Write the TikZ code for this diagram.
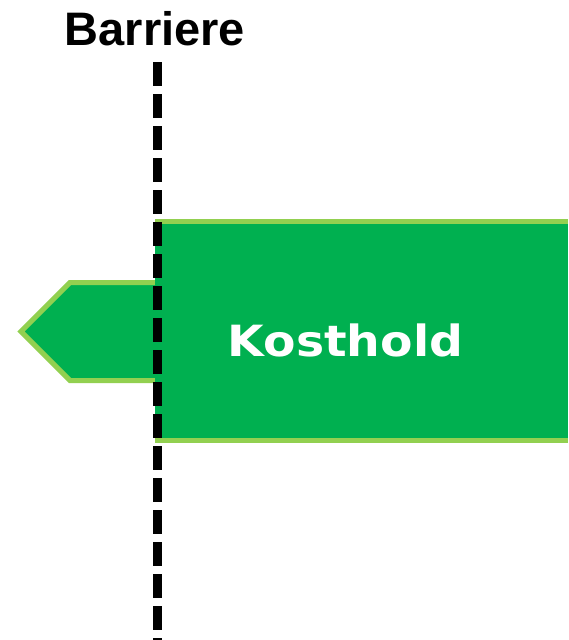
\documentclass[tikz,border=0pt]{standalone}
\usepackage{fontspec}
\setmainfont{Liberation Sans}
\newfontfamily\bandfont[FakeStretch=1.1]{DejaVu Sans}
\definecolor{kgreen}{HTML}{00B050}
\definecolor{kedge}{HTML}{92D050}

\begin{document}
\begin{tikzpicture}[x=1pt, y=-1pt,
  edge/.style={draw=kedge, line width=5pt, line join=miter},
  barrier/.style={draw=black, line width=9pt, dash pattern=on 24pt off 8pt}
]
  \useasboundingbox (0,0) rectangle (568,640);
  \node[font=\bfseries\fontsize{47}{56}\selectfont, inner sep=0pt] (title) at (155,29) {Barriere};
  % pointer sticking out to the left of the barrier
  \coordinate (pt) at (158,282.5);
  \coordinate (pb) at (158,380.5);
  \coordinate (tip) at (21,331.5);
  \fill[kgreen] (pt) -- (70,282.5) -- (tip) -- (70,380.5) -- (pb) -- cycle;
  \draw[edge] (pt) -- (70,282.5) -- (tip) -- (70,380.5) -- (pb);
  % main band
  \coordinate (bt) at (155,221.5);
  \coordinate (bb) at (155,440.5);
  \fill[kgreen] (bt) rectangle (568,440.5);
  \draw[edge] (bt) -- (568,221.5);
  \draw[edge] (bb) -- (568,440.5);
  \node[font=\bandfont\bfseries\fontsize{43}{50}\selectfont, text=white, inner sep=0pt]
        (diet) at (345.5,340.5) {Kosthold};
  % barrier line
  \draw[barrier] (157.5,62) -- (157.5,640);
\end{tikzpicture}
\end{document}
